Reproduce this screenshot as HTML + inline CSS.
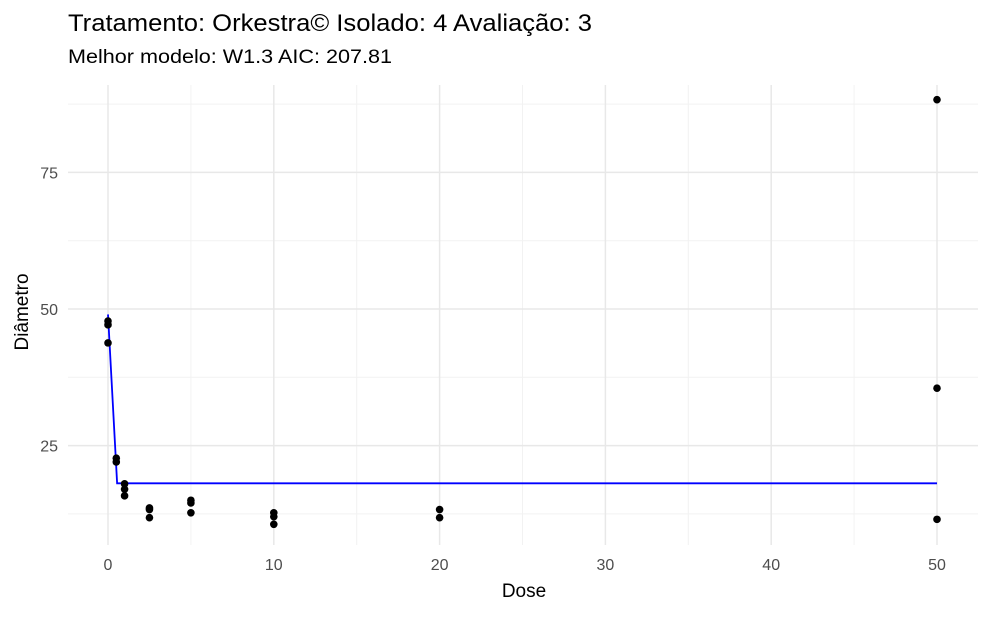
<!DOCTYPE html>
<html><head><meta charset="utf-8"><style>
body{margin:0;background:#fff;font-family:"Liberation Sans",sans-serif}
</style></head><body>
<svg width="991" height="612" id="c" font-family="Liberation Sans, sans-serif">
<text x="68" y="31" font-size="24" textLength="524" lengthAdjust="spacingAndGlyphs" fill="#000">Tratamento: Orkestra© Isolado: 4 Avaliação: 3</text>
<text x="68" y="63" font-size="19" textLength="324" lengthAdjust="spacingAndGlyphs" fill="#000">Melhor modelo: W1.3 AIC: 207.81</text>
<text x="524" y="597" font-size="19" text-anchor="middle">Dose</text>
<text transform="translate(28,312) rotate(-90)" font-size="19" text-anchor="middle">Diâmetro</text>
<g id="grid"></g><g id="marks"></g>
</svg>
<script>
const xMajor=[0,10,20,30,40,50];
const xMinor=[5,15,25,35,45];
const yMajor=[25,50,75];
const yMinor=[12.5,37.5,62.5,87.5];
const pointDose=[0,0,0,0.5,0.5,1,1,1,2.5,2.5,2.5,5,5,5,10,10,10,20,20,50,50,50];
const pointDiam=[47.8,47.1,43.8,22.7,22.0,18,17,15.8,13.6,13.3,11.8,15,14.5,12.7,12.7,12,10.6,13.3,11.8,88.3,35.5,11.5];
const curveDose=[0,0.55,50];
const curveDiam=[49,18.1,18.1];
const X=d=>108+d*16.58, Y=v=>309-(v-50)*5.464;
const ns="http://www.w3.org/2000/svg";
const g=document.getElementById('grid'),m=document.getElementById('marks');
function el(p,t,a){const e=document.createElementNS(ns,t);for(const k in a)e.setAttribute(k,a[k]);p.appendChild(e);return e;}
xMinor.forEach(d=>{const e=el(g,'line',{x1:X(d),x2:X(d),y1:85,y2:545,stroke:'#f2f2f2','stroke-width':1});

});
yMinor.forEach(v=>{const e=el(g,'line',{x1:68,x2:978,y1:Y(v),y2:Y(v),stroke:'#f2f2f2','stroke-width':1});

});
xMajor.forEach(d=>{const e=el(g,'line',{x1:X(d),x2:X(d),y1:85,y2:545,stroke:'#e8e8e8','stroke-width':1.5});


const t=el(g,'text',{x:X(d),y:570,'font-size':16,fill:'#4d4d4d','text-anchor':'middle'});t.textContent=d;

});
yMajor.forEach(v=>{const e=el(g,'line',{x1:68,x2:978,y1:Y(v),y2:Y(v),stroke:'#e8e8e8','stroke-width':1.5});


const t=el(g,'text',{x:58,y:Y(v)+6,'font-size':16,fill:'#4d4d4d','text-anchor':'end'});t.textContent=v;

});
const l=el(m,'polyline',{points:curveDose.map((d,i)=>X(d)+','+Y(curveDiam[i])).join(' '),fill:'none',stroke:'#0000ff','stroke-width':1.8});


pointDose.forEach((d,i)=>{const c=el(m,'circle',{cx:X(d),cy:Y(pointDiam[i]),r:3.8,fill:'#000'});

});
</script>
</body></html>
